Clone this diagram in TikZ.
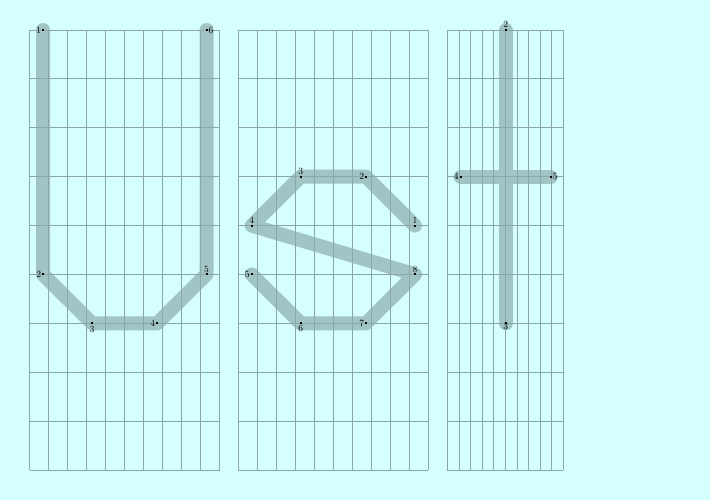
\documentclass[tikz,border=0pt]{standalone}
\definecolor{bgc}{RGB}{213,255,255}
\definecolor{gridc}{RGB}{140,165,165}
\definecolor{strokec}{RGB}{140,172,172}
\tikzset{
  gridline/.style={draw=gridc, line width=0.8pt},
  penstroke/.style={draw=strokec, line width=14pt, line cap=round, line join=round, opacity=0.7},
  pt/.style={rectangle, fill=black, inner sep=0pt, minimum size=2pt},
  lab/.style={inner sep=0.6pt, font=\fontsize{9.5}{10}\selectfont}
}
\begin{document}
\begin{tikzpicture}[x=1pt,y=-1pt]
\useasboundingbox (0,0) rectangle (710,500);
\fill[bgc] (0,0) rectangle (710,500);
% grids
\foreach \i in {0,...,10} {
  \draw[gridline] ({29.5+19*\i},30) -- ({29.5+19*\i},470);
  \draw[gridline] ({238.3+19*\i},30) -- ({238.3+19*\i},470);
  \draw[gridline] ({447.3+11.6*\i},30) -- ({447.3+11.6*\i},470);
}
\foreach \j in {0,...,9} {
  \draw[gridline] (29.5,{30+48.889*\j}) -- (219.5,{30+48.889*\j});
  \draw[gridline] (238.3,{30+48.889*\j}) -- (428.3,{30+48.889*\j});
  \draw[gridline] (447.3,{30+48.889*\j}) -- (563.3,{30+48.889*\j});
}
% points, letter U
\coordinate (u1) at (43,30);
\coordinate (u2) at (43,274.4);
\coordinate (u3) at (92,323.3);
\coordinate (u4) at (157.2,323.3);
\coordinate (u5) at (206.5,274.4);
\coordinate (u6) at (206.5,30);
% letter S
\coordinate (s1) at (415,225.6);
\coordinate (s2) at (366,176.7);
\coordinate (s3) at (300.7,176.7);
\coordinate (s4) at (251.7,225.6);
\coordinate (s5) at (251.7,274.4);
\coordinate (s6) at (300.7,323.3);
\coordinate (s7) at (366,323.3);
\coordinate (s8) at (415,274.4);
% letter t
\coordinate (t2) at (505.7,30);
\coordinate (t3) at (505.7,323.3);
\coordinate (t4) at (460.7,176.7);
\coordinate (t5) at (550.7,176.7);
% strokes
\draw[penstroke] (u1) -- (u2) -- (u3) -- (u4) -- (u5) -- (u6);
\draw[penstroke] (s1) -- (s2) -- (s3) -- (s4) -- (s8) -- (s7) -- (s6) -- (s5);
\draw[penstroke] (t2) -- (t3) (t4) -- (t5);
% dots and labels
\node[pt] (nu1) at (u1) {}; \node[lab, anchor=east] at (nu1.west) {1};
\node[pt] (nu2) at (u2) {}; \node[lab, anchor=east] at (nu2.west) {2};
\node[pt] (nu3) at (u3) {}; \node[lab, anchor=north] at ([yshift=-0.5pt]nu3.south) {3};
\node[pt] (nu4) at (u4) {}; \node[lab, anchor=east] at (nu4.west) {4};
\node[pt] (nu5) at (u5) {}; \node[lab, anchor=south] at (nu5.north) {5};
\node[pt] (nu6) at (u6) {}; \node[lab, anchor=west] at (nu6.east) {6};
\node[pt] (ns1) at (s1) {}; \node[lab, anchor=south] at (ns1.north) {1};
\node[pt] (ns2) at (s2) {}; \node[lab, anchor=east] at (ns2.west) {2};
\node[pt] (ns3) at (s3) {}; \node[lab, anchor=south] at (ns3.north) {3};
\node[pt] (ns4) at (s4) {}; \node[lab, anchor=south] at (ns4.north) {4};
\node[pt] (ns5) at (s5) {}; \node[lab, anchor=east] at (ns5.west) {5};
\node[pt] (ns6) at (s6) {}; \node[lab, anchor=north] at (ns6.south) {6};
\node[pt] (ns7) at (s7) {}; \node[lab, anchor=east] at (ns7.west) {7};
\node[pt] (ns8) at (s8) {}; \node[lab, anchor=south] at (ns8.north) {8};
\node[pt] (nt2) at (t2) {}; \node[lab, anchor=south] at (nt2.north) {2};
\node[pt] (nt3) at (t3) {}; \node[lab, anchor=north] at ([yshift=2pt]nt3.south) {3};
\node[pt] (nt4) at (t4) {}; \node[lab, anchor=east] at (nt4.west) {4};
\node[pt] (nt5) at (t5) {}; \node[lab, anchor=west] at (nt5.east) {5};
\end{tikzpicture}
\end{document}
